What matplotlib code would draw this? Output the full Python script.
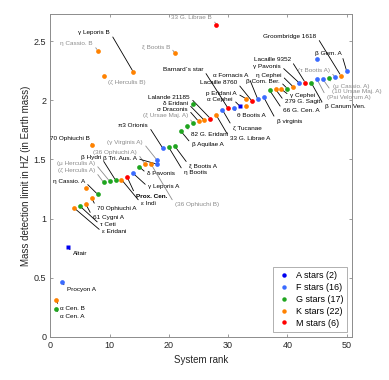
import matplotlib.pyplot as plt
from matplotlib.lines import Line2D

plt.rcParams['font.family'] = ['Liberation Sans', 'DejaVu Sans']

# one entry per star: system rank, HZ mass limit, spectral class, label
rank = [1, 1, 2, 3, 4, 5, 6, 6, 7, 7, 8, 8, 9, 9, 10, 11, 12, 13, 14, 14,
        15, 16, 17, 18, 18, 19, 20, 21, 21, 22, 23, 24, 24, 25, 26, 27, 28, 28,
        29, 30, 31, 32, 33, 33, 34, 35, 36, 37, 38, 39, 40, 41, 42, 43, 44,
        45, 45, 46, 47, 48, 49, 50]
mass = [0.234, 0.308, 0.465, 0.761, 1.09, 1.105, 1.12, 1.26, 1.17, 1.62,
        1.204, 2.42, 1.305, 2.21, 1.316, 1.325, 1.33, 1.347, 1.381, 2.24,
        1.437, 1.46, 1.46, 1.494, 1.46, 1.593, 1.601, 1.612, 2.40, 1.741,
        1.781, 1.81, 1.966, 1.823, 1.83, 1.846, 1.874, 2.64, 1.922, 1.931,
        1.939, 1.95, 2.015, 1.95, 1.995, 2.009, 2.026, 2.085, 2.093, 2.093,
        2.099, 2.113, 2.147, 2.15, 2.15, 2.177, 2.347, 2.177, 2.189, 2.198,
        2.21, 2.246]
spec = ['G', 'K', 'F', 'A', 'K', 'G', 'K', 'K', 'K', 'K', 'G', 'K', 'G', 'K',
        'G', 'G', 'K', 'M', 'F', 'K', 'G', 'K', 'K', 'F', 'F', 'F', 'G', 'G',
        'K', 'G', 'G', 'G', 'G', 'K', 'K', 'M', 'K', 'M', 'F', 'M', 'F', 'A',
        'K', 'K', 'M', 'F', 'F', 'G', 'K', 'K', 'G', 'K', 'F', 'M', 'G', 'F',
        'F', 'F', 'G', 'F', 'K', 'F']
names = ['α Cen. A', 'α Cen. B', 'Procyon A', 'Altair', 'ε Eridani', 'τ Ceti',
         '61 Cygni A', '', '70 Ophiuchi A', '70 Ophiuchi B', 'η Cassio. A',
         'η Cassio. B', '(ζ Herculis A)', '(ζ Herculis B)', '(μ Herculis A)',
         'β Hydri', 'ε Indi', 'Prox. Cen.', 'γ Leporis A', 'γ Leporis B',
         'δ Pavonis', '(36 Ophiuchi A)', '(36 Ophiuchi B)', '(γ Virginis A)',
         'β Tri. Aus. A', 'π3 Orionis', 'η Bootis', 'ξ Bootis A', 'ξ Bootis B',
         'β Aquilae A', '82 G. Eridani', '(ξ Ursae Maj. A)', '', 'σ Draconis',
         'δ Eridani', 'Lalande 21185', '33 G. Librae A', '33 G. Librae B',
         'ζ Tucanae', 'Barnard`s star', 'θ Bootis A', 'α Cephei', 'p Eridani A',
         '', 'Lacaille 8760', 'α Fornacis A', 'β virginis', '66 G. Cen. A',
         '279 G. Sagit.', 'γ Cephei', 'β Com. Ber.', 'η Cephei', 'γ Pavonis',
         'Lacaille 9352', 'β Canum Ven.', '(Psi Velorum A)', '',
         '(10 Ursae Maj. A)', '(μ Cassio. A)', '(τ Bootis A)',
         'Groombridge 1618', 'β Gem. A']
greyed = ['η Cassio. B', 'ξ Bootis B', '33 G. Librae B']
legend_counts = [2, 16, 17, 22, 6]

# label anchor (data units) and the side of the text the leader attaches to
lab_x = [1.64, 1.64, 2.77, 3.78, 8.72, 8.38, 7.2, 0, 7.88, 6.69, 5.85, 7.2,
         7.54, 9.73, 7.54, 8.55, 15.3, 14.45, 16.48, 10.07, 16.3, 14.62, 21.03,
         15.63, 14.62, 16.48, 22.55, 23.39, 20.19, 23.85, 23.68, 23.22, 0,
         23.22, 23.22, 23.56, 30.3, 27.27, 30.8, 25.8, 31.5, 30.8, 31.5, 0,
         31.5, 33.35, 38.2, 39.24, 39.58, 40.4, 38.73, 39.0, 38.9, 40.54, 46.3,
         46.66, 0, 47.5, 47.67, 47.17, 44.9, 49.1]
lab_y = [0.169, 0.237, 0.40, 0.70, 0.888, 0.95, 1.009, 0, 1.085, 1.677, 1.31,
         2.48, 1.403, 2.153, 1.466, 1.52, 1.13, 1.19, 1.268, 2.576, 1.381,
         1.559, 1.119, 1.643, 1.508, 1.79, 1.39, 1.451, 2.457, 1.629, 1.713,
         1.868, 0, 1.925, 1.973, 2.024, 1.677, 2.702, 1.768, 2.263, 1.868,
         2.009, 2.057, 0, 2.15, 2.212, 1.823, 1.916, 1.986, 2.039, 2.161,
         2.212, 2.29, 2.347, 1.944, 2.02, 0, 2.071, 2.119, 2.249, 2.544, 2.398]
lab_side = ['l', 'l', 'l', 'l', 'l', 'l', 'l', '-', 'l', 'r',
            'r', 'r', 'r', 'l', 'r', 'r', 'l', 'l', 'l', 'r',
            'l', 'r', 'l', 'r', 'r', 'r', 'l', 'l', 'r', 'l',
            'l', 'r', '-', 'r', 'r', 'r', 'l', 'r', 'l', 'r',
            'l', 'r', 'r', '-', 'r', 'r', 'l', 'l', 'l', 'l',
            'r', 'r', 'r', 'r', 'l', 'l', '-', 'l', 'l', 'r',
            'r', 'r']

colours = {'A': '#0000f0', 'F': '#3a6bff', 'G': '#1fa51f', 'K': '#ff8200', 'M': '#ff0000'}
grey_txt = '#8c8c8c'

fig = plt.figure(figsize=(3.89, 3.80), dpi=100)
ax = fig.add_axes([0.1293, 0.114, 0.7757, 0.849])

for i, name in enumerate(names):
    if not name:
        continue
    grey = name.startswith('(') or name in greyed
    c = grey_txt if grey else 'black'
    right = lab_side[i] == 'r'
    ax.annotate(name, xy=(rank[i], mass[i]), xytext=(lab_x[i], lab_y[i]),
                ha='right' if right else 'left', va='center', fontsize=4.6,
                color=c, fontweight='bold' if name == 'Prox. Cen.' else 'normal',
                arrowprops=dict(arrowstyle='-', color=c, lw=0.6, shrinkA=0,
                                shrinkB=1.2, relpos=(1, 0.5) if right else (0, 0.5)))

for i in range(len(rank)):
    ax.plot(rank[i], mass[i], marker='s' if spec[i] == 'A' else 'o',
            ms=3.5 if spec[i] == 'A' else 3.4, color=colours[spec[i]],
            mec='none', zorder=5)

handles = [Line2D([], [], ls='none', marker='o', ms=3.2, color=colours[s], mec='none')
           for s in 'AFGKM']
labels = [f'{s} stars ({n})' for s, n in zip('AFGKM', legend_counts)]
leg = ax.legend(handles, labels, loc='lower right', fontsize=6.5, frameon=True,
                fancybox=False, edgecolor='#8c8c8c', handlelength=1.4,
                handletextpad=0.6, borderpad=0.45, labelspacing=0.31,
                borderaxespad=0.55)
leg.get_frame().set_linewidth(0.6)

ax.set_xlim(0, 50.9)
ax.set_ylim(0, 2.73)
ax.set_xticks([0, 10, 20, 30, 40, 50])
ax.set_yticks([0, 0.5, 1, 1.5, 2, 2.5])
ax.set_yticklabels(['0', '0.5', '1', '1.5', '2', '2.5'])
ax.tick_params(direction='in', top=True, right=True, length=2.5, width=0.6,
               color='#8c8c8c', labelcolor='#262626', labelsize=6.5, pad=3)
for s in ax.spines.values():
    s.set_color('#8c8c8c')
    s.set_linewidth(0.7)
ax.set_xlabel('System rank', fontsize=7, color='#262626', labelpad=4)
ax.set_ylabel('Mass detection limit in HZ (in Earth mass)', fontsize=7,
              color='#262626', labelpad=2)

fig.savefig('out.png', dpi=100)
